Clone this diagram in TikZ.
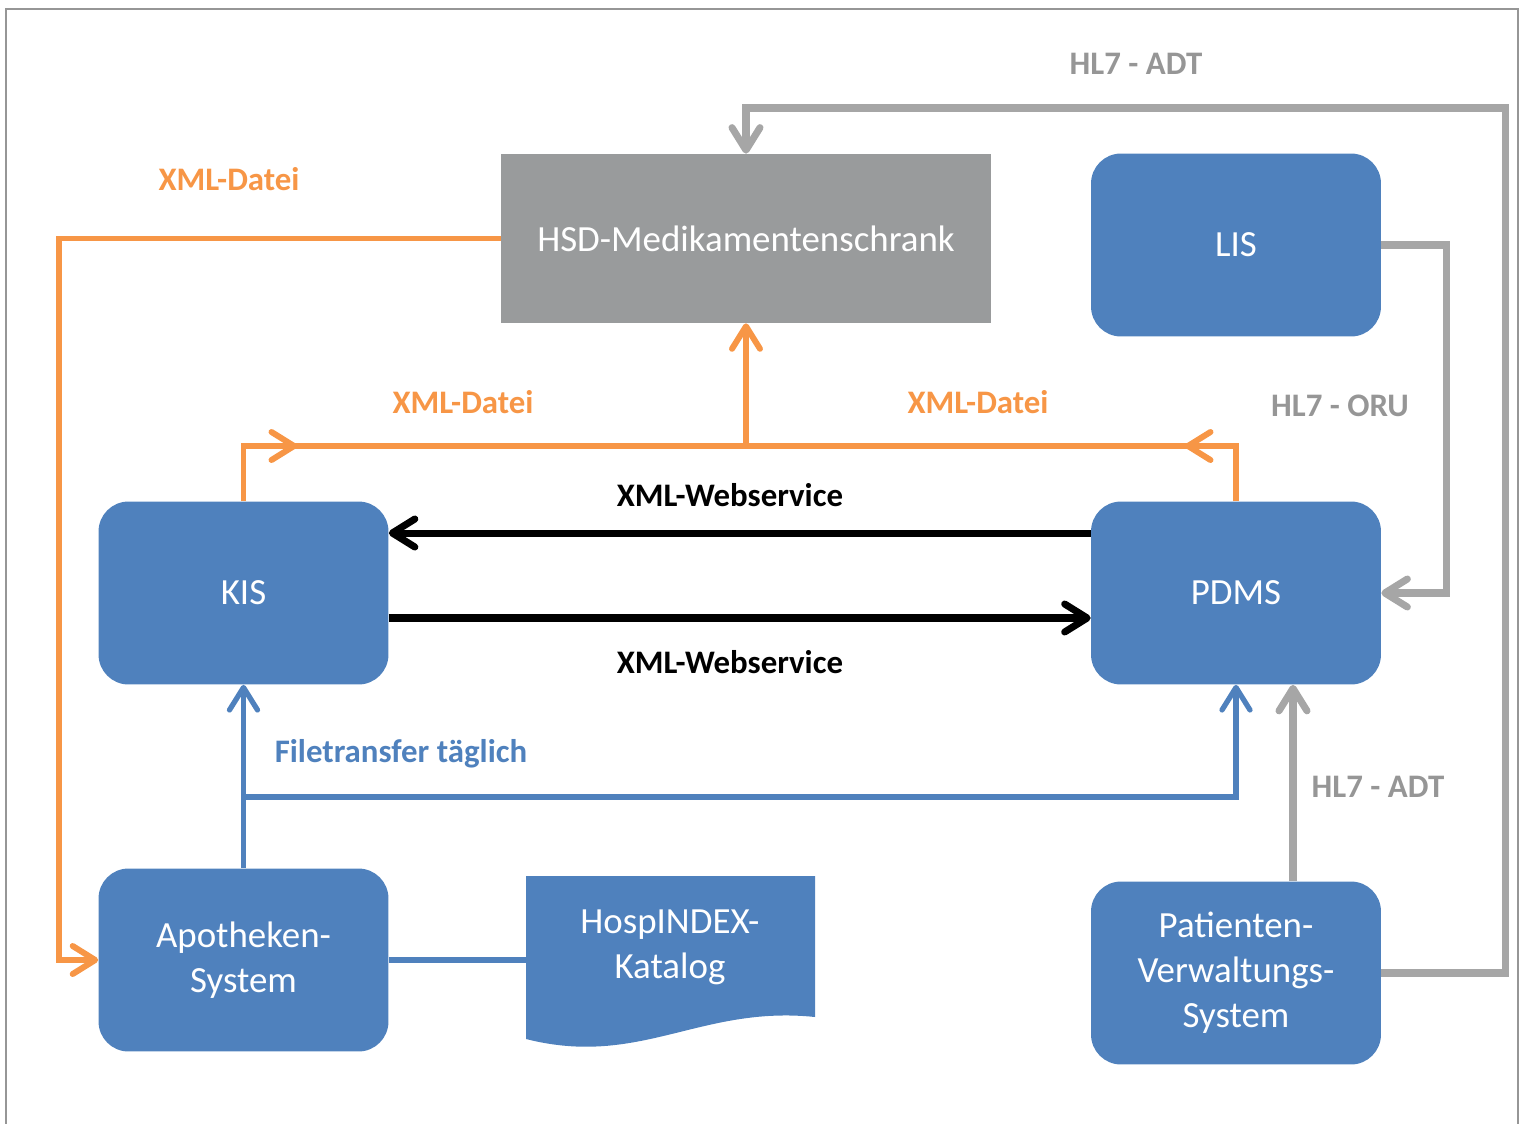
\documentclass[tikz,border=0pt]{standalone}
\usepackage{fontspec}
\setmainfont{Carlito}
\usepackage{tikz}
\usetikzlibrary{arrows.meta,positioning}

\definecolor{boxblue}{RGB}{79,129,189}
\definecolor{boxgray}{RGB}{153,155,156}
\definecolor{lineorange}{RGB}{247,150,70}
\definecolor{linegray}{RGB}{166,166,166}
\definecolor{labelgray}{RGB}{150,150,150}

\begin{document}
\begin{tikzpicture} [x=0.02cm, y=-0.02cm,
  sys/.style={fill=boxblue, rounded corners=0.6cm, minimum width=5.8cm, minimum height=3.66cm,
    text=white, align=center, inner sep=0pt, font=\fontsize{21}{25.5}\selectfont},
  lbl/.style={font=\bfseries\fontsize{18.7}{22}\selectfont},
  arr/.style={-{Straight Barb[length=4.5mm, width=5.6mm, round]}},
  oline/.style={draw=lineorange, line width=3.4pt},
  gline/.style={draw=linegray, line width=4pt},
  kline/.style={draw=black, line width=4pt},
  bline/.style={draw=boxblue, line width=3pt}]

\useasboundingbox (0,0) rectangle (1522,1123);
\draw [labelgray, line width=0.8pt] (6,1130) |- (1518,9) -- (1518,1130);

% boxes
\node [fill=boxgray, minimum width=9.8cm, minimum height=3.38cm, inner sep=0pt,
  text=white, font=\fontsize{21}{25.5}\selectfont] (hsd) at (746,238.5) {HSD-Medikamentenschrank};
\node [sys] (lis) at (1236,245) {LIS};
\node [sys] (kis) at (243.5,593) {KIS};
\node [sys] (pdms) at (1236,593) {PDMS};
\node [sys] (apo) at (243.5,960) {Apotheken-\\System};
\node [sys] (pvs) at (1236,973) {Patienten-\\Verwaltungs-\\System};

% document shape
\fill [boxblue] (526,876) -- (815,876) -- (815,1017)
  .. controls (700,1005) and (640,1068) .. (526,1039) -- cycle;
\node [text=white, align=center, font=\fontsize{21}{25.5}\selectfont] (hosp) at (670,947) {HospINDEX-\\Katalog};
\coordinate (hospin) at (526,960);

% gray HL7
\draw [gline, arr] (pvs.east) -| (1505,108) -| (hsd.north);
\draw [gline, arr] (lis.east) -- (1446,245) |- (pdms.east);
\draw [gline, arr] ([xshift=1.14cm]pvs.north) -- ([xshift=1.14cm]pdms.south);

% orange XML
\coordinate (xj) at (746,446);
\draw [oline, arr] (hsd.west) -| (59,960) -- (apo.west);
\draw [oline] (kis.north) |- (xj);
\draw [oline, arr] (kis.north) |- (297,446);
\draw [oline] (pdms.north) |- (xj);
\draw [oline, arr] (pdms.north) |- (1185,446);
\draw [oline, arr] (xj) -- (hsd.south);

% black webservice
\draw [kline, arr] ([yshift=1.2cm]pdms.west) -- ([yshift=1.2cm]kis.east);
\draw [kline, arr] ([yshift=-0.5cm]kis.east) -- ([yshift=-0.5cm]pdms.west);

% blue filetransfer
\coordinate (ft) at (243.5,797);
\draw [bline, arr] (apo.north) -- (kis.south);
\draw [bline, arr] (ft) -| (pdms.south);
\draw [bline] (apo.east) -- (hospin);

% labels
\node [lbl, text=labelgray] (adt1) at (1136,64) {HL7 - ADT};
\node [lbl, text=lineorange] (xml1) at (229,179) {XML-Datei};
\node [lbl, text=labelgray] (oru) at (1340,406) {HL7 - ORU};
\node [lbl, text=lineorange] (xml2) at (463,402) {XML-Datei};
\node [lbl, text=lineorange] (xml3) at (978,402) {XML-Datei};
\node [lbl] (ws1) at (730,495) {XML-Webservice};
\node [lbl] (ws2) at (730,662) {XML-Webservice};
\node [lbl, text=boxblue] (ftl) at (401,754) {Filetransfer täglich};
\node [lbl, text=labelgray] (adt2) at (1378,787) {HL7 - ADT};

\end{tikzpicture}
\end{document}
